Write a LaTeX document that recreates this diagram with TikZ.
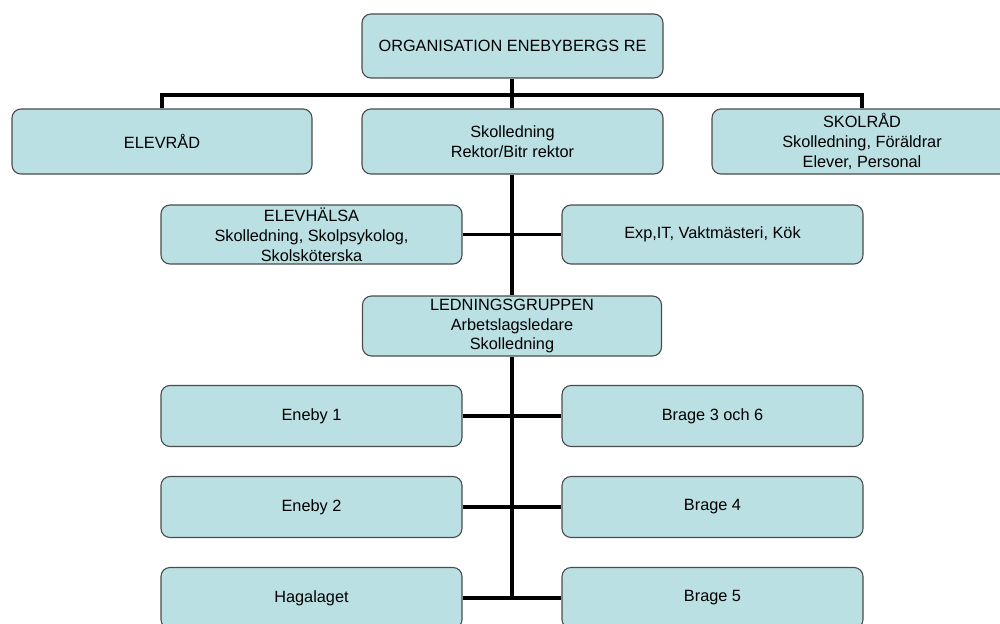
\documentclass[tikz,border=0pt]{standalone}
\usepackage{fontspec}
\setmainfont{Liberation Sans}
\begin{document}
\begin{tikzpicture}[x=1pt,y=-1pt,
  orgbox/.style={draw=black!70, line width=1.1pt, fill=boxfill, rounded corners=9pt,
    minimum width=301pt, inner sep=0pt, align=center, font=\fontsize{16.3}{19.8}\selectfont},
  link/.style={draw=black, line width=3.2pt}]
\definecolor{boxfill}{HTML}{BBE0E3}
\useasboundingbox (0,0) rectangle (1000,623);
\clip (0,0) rectangle (1000,623);
\fill[white] (0,0) rectangle (1000,623);
% nodes
\node[orgbox, minimum height=64pt] (top) at (512.5,46) {ORGANISATION ENEBYBERGS RE};
\node[orgbox, minimum width=300pt, minimum height=65pt] (elevrad) at (162,141.5) {ELEVRÅD};
\node[orgbox, minimum height=65pt] (skolled) at (512.5,141.5) {Skolledning\\Rektor/Bitr rektor};
\node[orgbox, minimum width=300pt, minimum height=65pt] (skolrad) at (862,141.5) {SKOLRÅD\\Skolledning, Föräldrar\\Elever, Personal};
\node[orgbox, minimum height=59pt] (elevh) at (311.5,234.5) {ELEVHÄLSA\\Skolledning, Skolpsykolog,\\Skolsköterska};
\node[orgbox, minimum height=59pt] (exp) at (712.5,234.5) {Exp,IT, Vaktmästeri, Kök};
\node[orgbox, minimum width=299pt, minimum height=60pt] (ledn) at (512,326) {LEDNINGSGRUPPEN\\Arbetslagsledare\\Skolledning};
\node[orgbox, minimum height=61pt] (en1) at (311.5,416) {Eneby 1};
\node[orgbox, minimum height=61pt] (br36) at (712.5,416) {Brage 3 och 6};
\node[orgbox, minimum height=61pt] (en2) at (311.5,507) {Eneby 2};
\node[orgbox, minimum height=61pt] (br4) at (712.5,507) {Brage 4};
\node[orgbox, minimum height=61pt] (haga) at (311.5,598) {Hagalaget};
\node[orgbox, minimum height=61pt] (br5) at (712.5,598) {Brage 5};
% connectors
\coordinate (spine) at (512,598);
\draw[link] (top.south -| 512,0) -- (skolled.north -| 512,0);
\draw[link] (elevrad.north) |- (512,95) -| (skolrad.north);
\draw[link] (skolled.south -| 512,0) -- (ledn.north -| 512,0);
\draw[link] (elevh.east) -- (exp.west);
\draw[link] (ledn.south -| 512,0) -- (spine);
\draw[link] (en1.east) -- (br36.west);
\draw[link] (en2.east) -- (br4.west);
\draw[link] (haga.east) -- (br5.west);
\end{tikzpicture}
\end{document}
